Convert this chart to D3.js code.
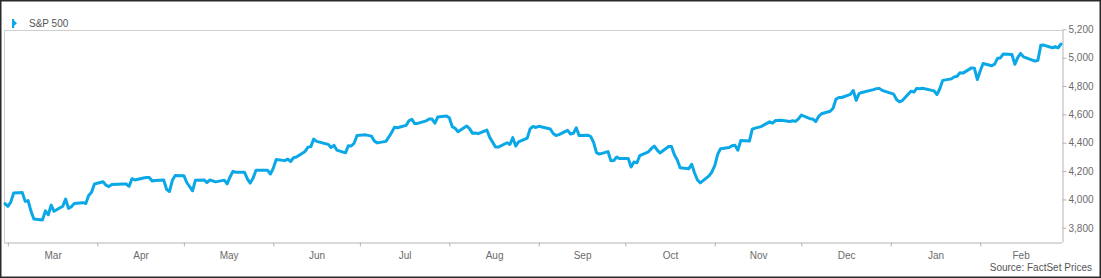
<!DOCTYPE html>
<html>
<head>
<meta charset="utf-8">
<script src="https://cdn.jsdelivr.net/npm/d3@7"></script>
<style>
  body { margin: 0; background: #fff; }
  svg { display: block; font-family: "Liberation Sans", Arial, sans-serif; }
  .axis text { fill: #6b6b6b; font-size: 10px; }
  .axis path, .axis line { stroke: #b4b4b4; }
</style>
</head>
<body>
<div id="chart"></div>
<script>
// S&P 500 daily closes, Feb 28 2023 - Feb 29 2024
const seriesName = "S&P 500";
const startDay = "2023-02-28";
const endDay = "2024-02-29";
const holidays = ["2023-04-07", "2023-05-29", "2023-06-19", "2023-07-04", "2023-09-04",
  "2023-11-23", "2023-12-25", "2024-01-01", "2024-01-15", "2024-02-19"];

const closeFeb23 = [3970.2];
const closeMar23 = [3951.4, 3981.4, 4045.6, 4048.4, 3986.4, 3992.0, 3918.3, 3861.6, 3855.8, 3919.3,
  3891.9, 3960.3, 3916.6, 3951.6, 4002.9, 3937.0, 3948.7, 3971.0, 3977.5, 3971.3, 4027.8, 4050.8, 4109.3];
const closeApr23 = [4124.5, 4100.6, 4090.4, 4105.0, 4109.1, 4108.9, 4092.0, 4146.2, 4137.6, 4151.3,
  4154.9, 4154.5, 4129.8, 4133.5, 4137.0, 4071.6, 4056.0, 4135.4, 4169.5];
const closeMay23 = [4167.9, 4119.6, 4090.8, 4061.2, 4136.3, 4138.1, 4119.2, 4137.6, 4130.6, 4124.1,
  4136.3, 4109.9, 4158.8, 4198.1, 4192.0, 4192.6, 4145.6, 4115.2, 4151.3, 4205.5, 4205.5, 4179.8];
const closeJun23 = [4221.0, 4282.4, 4273.8, 4283.9, 4267.5, 4293.9, 4298.9, 4338.9, 4369.0, 4372.6,
  4425.8, 4409.6, 4388.7, 4365.7, 4381.9, 4348.3, 4328.8, 4378.4, 4376.9, 4396.4, 4450.4];
const closeJul23 = [4455.6, 4446.8, 4411.6, 4399.0, 4409.5, 4439.3, 4472.2, 4510.0, 4505.4, 4522.8,
  4555.0, 4565.7, 4534.9, 4536.3, 4554.6, 4567.5, 4566.8, 4537.4, 4582.2, 4589.0];
const closeAug23 = [4576.7, 4513.4, 4501.9, 4478.0, 4518.4, 4499.4, 4467.7, 4468.8, 4464.1, 4489.7,
  4437.9, 4404.3, 4370.4, 4369.7, 4399.8, 4387.6, 4436.0, 4376.3, 4405.7, 4433.3, 4497.6, 4514.9, 4507.7];
const closeSep23 = [4515.8, 4496.8, 4465.5, 4451.1, 4457.5, 4487.5, 4461.9, 4467.4, 4505.1, 4450.3,
  4453.5, 4444.0, 4402.2, 4330.0, 4320.1, 4337.4, 4273.5, 4274.5, 4299.7, 4288.1];
const closeOct23 = [4288.4, 4229.5, 4263.8, 4258.2, 4308.5, 4335.7, 4358.2, 4377.0, 4349.6, 4327.8,
  4373.6, 4373.2, 4314.6, 4278.0, 4224.2, 4217.0, 4247.7, 4186.8, 4137.2, 4117.4, 4166.8, 4193.8];
const closeNov23 = [4237.9, 4317.8, 4358.3, 4366.0, 4378.4, 4382.8, 4347.4, 4415.2, 4411.6, 4495.7,
  4502.9, 4508.2, 4514.0, 4547.4, 4538.2, 4556.6, 4559.3, 4550.4, 4554.9, 4550.6, 4567.8];
const closeDec23 = [4594.6, 4569.8, 4567.2, 4549.3, 4585.6, 4604.4, 4622.4, 4643.7, 4707.1, 4719.6,
  4719.2, 4740.6, 4768.4, 4698.4, 4746.8, 4754.6, 4774.8, 4781.6, 4783.4, 4769.8];
const closeJan24 = [4742.8, 4704.8, 4688.7, 4697.2, 4763.5, 4756.5, 4783.5, 4780.2, 4783.8, 4766.0,
  4739.2, 4780.9, 4839.8, 4850.4, 4864.6, 4868.6, 4894.2, 4891.0, 4927.9, 4925.0, 4845.7];
const closeFeb24 = [4906.2, 4958.6, 4942.8, 4954.2, 4995.1, 4997.9, 5026.6, 5021.8, 4953.2, 5000.6,
  5029.7, 5005.6, 4975.5, 4981.8, 5087.0, 5088.8, 5069.5, 5078.2, 5069.8, 5096.3];

const yTicks = [3800, 4000, 4200, 4400, 4600, 4800, 5000, 5200];
const sourceText = "Source: FactSet Prices";

(function(){

  const svgWidth = 1101, svgHeight = 278;
  const plot = { left: 4, right: 1062, top: 30, bottom: 242 };
  const blue = "#0aa8e6";

  const parseDay = d3.timeParse("%Y-%m-%d");
  const fmtDay = d3.timeFormat("%Y-%m-%d");

  // trading days = weekdays minus exchange holidays
  const first = parseDay(startDay), last = parseDay(endDay);
  const days = d3.timeDay.range(first, d3.timeDay.offset(last, 1))
    .filter(d => d.getDay() !== 0 && d.getDay() !== 6 && holidays.indexOf(fmtDay(d)) < 0);

  const closes = [].concat(closeFeb23, closeMar23, closeApr23, closeMay23, closeJun23, closeJul23,
    closeAug23, closeSep23, closeOct23, closeNov23, closeDec23, closeJan24, closeFeb24);
  const data = days.map((d, i) => ({ date: d, value: closes[i] }));

  const svg = d3.select("#chart").append("svg")
    .attr("width", svgWidth).attr("height", svgHeight);

  // outer frame
  svg.append("rect")
    .attr("x", 0.75).attr("y", 0.75)
    .attr("width", svgWidth - 1.5).attr("height", svgHeight - 1.5)
    .attr("fill", "none").attr("stroke", "#2a2a2a").attr("stroke-width", 1.5);

  const x = d3.scaleTime().domain([first, last]).range([plot.left + 1, plot.right - 1]);
  const y = d3.scaleLinear().domain([3700, 5200]).range([plot.bottom, plot.top - 0.7]);

  // plot frame (top + left)
  svg.append("path")
    .attr("d", `M${plot.left + 0.5},${plot.bottom}V${plot.top + 0.5}H${plot.right}`)
    .attr("fill", "none").attr("stroke", "#cfcfcf");

  // x axis: month boundary ticks
  const monthStarts = d3.timeMonth.range(d3.timeMonth.ceil(first), last);
  svg.append("g")
    .attr("class", "axis")
    .attr("transform", `translate(0,${plot.bottom + 0.5})`)
    .call(d3.axisBottom(x).tickValues(monthStarts).tickSizeInner(4).tickSizeOuter(0).tickFormat(""))
    .call(g => g.select(".domain").attr("d", `M${plot.left},0.5H${plot.right}`));

  // x axis: month labels centred in each month
  const monthMids = monthStarts.map(m => {
    const next = d3.timeMonth.offset(m, 1);
    const end = next > last ? last : next;
    return new Date((+m + +end) / 2);
  });
  svg.append("g")
    .attr("class", "axis")
    .attr("transform", `translate(0,${plot.bottom + 0.5})`)
    .call(d3.axisBottom(x).tickValues(monthMids).tickSize(0).tickPadding(9).tickFormat(d3.timeFormat("%b")))
    .call(g => g.select(".domain").remove());

  // y axis on the right
  svg.append("g")
    .attr("class", "axis")
    .attr("transform", `translate(${plot.right + 0.5},0)`)
    .call(d3.axisRight(y).tickValues(yTicks).tickSizeInner(4).tickSizeOuter(0).tickPadding(2)
      .tickFormat(d3.format(",")))
    .call(g => g.select(".domain").attr("d", `M0.5,${plot.top}V${plot.bottom + 0.5}`));

  // price line
  const line = d3.line().x(d => x(d.date)).y(d => y(d.value));
  svg.append("path")
    .datum(data)
    .attr("fill", "none")
    .attr("stroke", blue)
    .attr("stroke-width", 3)
    .attr("stroke-linejoin", "round")
    .attr("stroke-linecap", "round")
    .attr("d", line);

  // legend
  const legend = svg.append("g").attr("transform", "translate(12,19)");
  legend.append("path")
    .attr("d", "M0,0H2.2V9H0Z M2.2,1.8L5,4.3L2.2,6.8Z")
    .attr("fill", blue);
  legend.append("text")
    .attr("x", 17).attr("y", 8)
    .attr("fill", "#555")
    .attr("font-size", 10)
    .text(seriesName);

  // source note
  svg.append("text")
    .attr("x", 1092).attr("y", 271)
    .attr("text-anchor", "end")
    .attr("fill", "#555")
    .attr("font-size", 10)
    .text(sourceText);

})();
</script>
</body>
</html>
